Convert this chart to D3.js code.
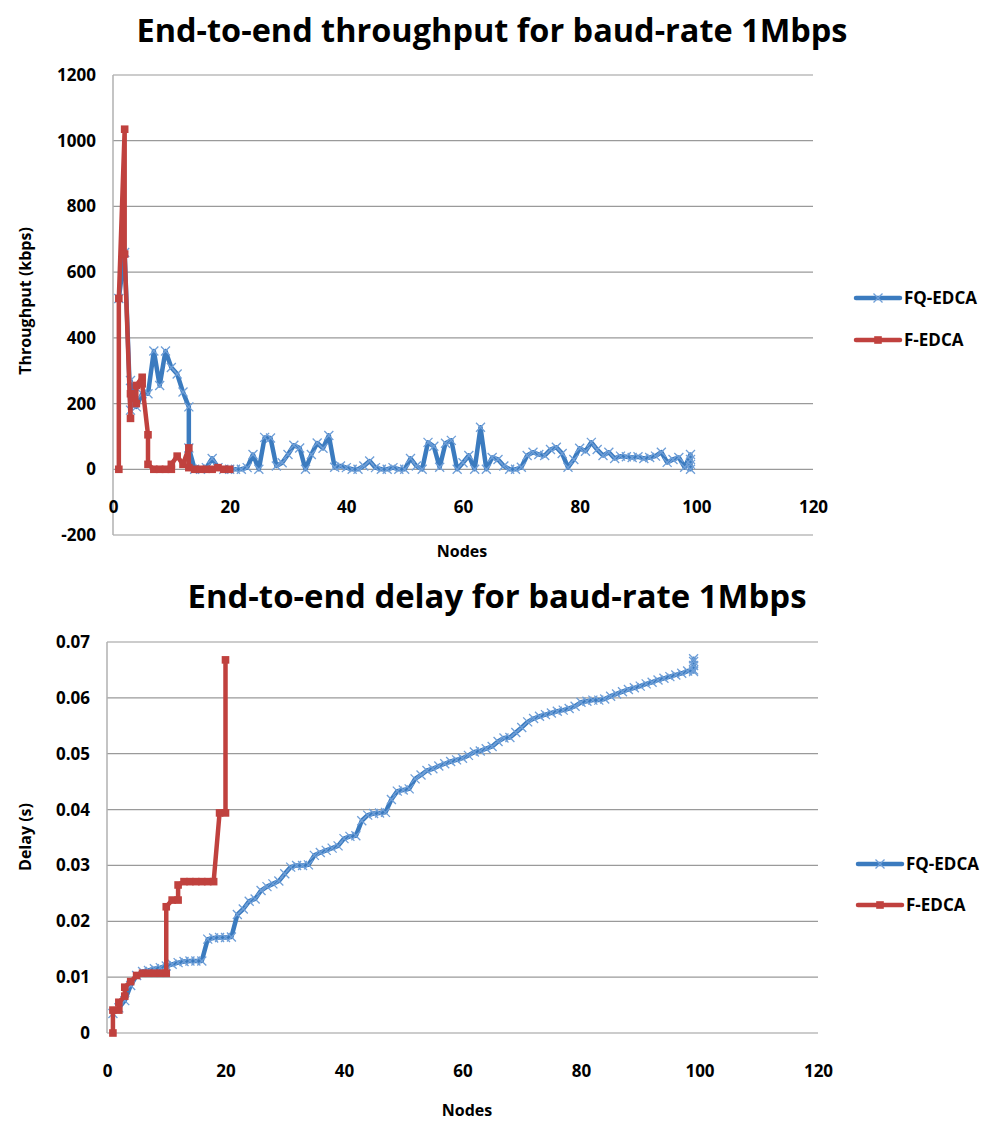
<!DOCTYPE html>
<html><head><meta charset="utf-8">
<script src="https://cdn.jsdelivr.net/npm/d3@7"></script>
<style>
html,body{margin:0;padding:0;background:#fff;}
svg{display:block;font-family:"Open Sans",sans-serif;font-weight:700;}
</style></head>
<body>
<svg id="c" width="999" height="1122"></svg>
<script>
// ---------- DATA ----------
const seriesNames = ["FQ-EDCA", "F-EDCA"];
const throughputTitle = "End-to-end throughput for baud-rate 1Mbps";
const delayTitle = "End-to-end delay for baud-rate 1Mbps";
const xTicks = [0, 20, 40, 60, 80, 100, 120];
const throughputTicks = [-200, 0, 200, 400, 600, 800, 1000, 1200];
const delayTicks = [0, 0.01, 0.02, 0.03, 0.04, 0.05, 0.06, 0.07];

// [node, kbps]
const fqThroughput = [[1,520],[2,660],[3,180],[3,270],[4,190],[5,230],[6,230],[7,360],[8,255],[9,360],[10,310],[11,290],[12,235],[13,190],[13,65],[14,0],[15,0],[16,5],[17,33],[18,5],[19,0],[20,0],[21,0],[22,0],[23,5],[24,45],[25,0],[26,97],[27,95],[28,10],[29,20],[30,45],[31,73],[32,65],[33,0],[34,45],[35,80],[36,64],[37,103],[38,6],[39,10],[40,5],[41,0],[42,0],[43,10],[44,25],[45,5],[46,0],[47,0],[48,5],[49,0],[50,0],[51,33],[52,10],[53,0],[54,82],[55,70],[56,6],[57,79],[58,88],[59,0],[60,20],[61,42],[62,0],[63,128],[64,0],[65,36],[66,30],[67,10],[68,0],[69,0],[70,6],[71,42],[72,52],[73,45],[74,42],[75,60],[76,67],[77,48],[78,6],[79,30],[80,64],[81,55],[82,82],[83,60],[84,42],[85,52],[86,33],[87,40],[88,38],[89,36],[90,38],[91,33],[92,36],[93,40],[94,52],[95,21],[96,30],[97,36],[98,6],[99,45],[99,0],[99,30],[99,15]];
const fThroughput = [[1,0],[1,520],[2,1035],[2,655],[3,155],[3,230],[4,200],[4,255],[5,280],[5,260],[6,105],[6,15],[7,0],[8,0],[9,0],[10,0],[10,15],[11,40],[12,15],[13,65],[13,5],[14,0],[15,0],[16,0],[17,0],[18,5],[19,0],[20,0]];

// [node, seconds]
const fqDelay = [[1,0.0035],[2,0.0045],[3,0.0058],[4,0.0085],[5,0.0103],[6,0.0110],[7,0.0112],[8,0.0115],[9,0.0117],[10,0.0120],[11,0.0123],[12,0.0126],[13,0.0128],[14,0.0129],[15,0.0129],[16,0.0129],[17,0.0168],[18,0.0170],[19,0.0171],[20,0.0171],[21,0.0172],[22,0.0212],[23,0.0222],[24,0.0236],[25,0.0240],[26,0.0255],[27,0.0262],[28,0.0267],[29,0.0272],[30,0.0285],[31,0.0297],[32,0.0300],[33,0.0300],[34,0.0301],[35,0.0318],[36,0.0323],[37,0.0327],[38,0.0331],[39,0.0335],[40,0.0348],[41,0.0352],[42,0.0353],[43,0.0380],[44,0.0390],[45,0.0393],[46,0.0394],[47,0.0395],[48,0.0418],[49,0.0433],[50,0.0435],[51,0.0437],[52,0.0455],[53,0.0462],[54,0.0470],[55,0.0473],[56,0.0478],[57,0.0482],[58,0.0486],[59,0.0489],[60,0.0492],[61,0.0497],[62,0.0503],[63,0.0505],[64,0.0509],[65,0.0513],[66,0.0522],[67,0.0528],[68,0.0529],[69,0.0538],[70,0.0547],[71,0.0557],[72,0.0563],[73,0.0567],[74,0.0570],[75,0.0573],[76,0.0576],[77,0.0578],[78,0.0581],[79,0.0585],[80,0.0592],[81,0.0594],[82,0.0596],[83,0.0596],[84,0.0598],[85,0.0603],[86,0.0607],[87,0.0611],[88,0.0615],[89,0.0618],[90,0.0621],[91,0.0625],[92,0.0628],[93,0.0632],[94,0.0635],[95,0.0638],[96,0.0641],[97,0.0644],[98,0.0648],[99,0.0650],[99,0.0665],[99,0.0658],[99,0.0670],[99,0.0647]];
const fDelay = [[1,0],[1,0.0041],[2,0.0041],[2,0.0055],[3,0.0066],[3,0.0082],[4,0.0092],[5,0.0103],[6,0.0107],[7,0.0107],[8,0.0107],[9,0.0107],[10,0.0107],[10,0.0226],[11,0.0238],[12,0.0238],[12,0.0265],[13,0.0271],[14,0.0271],[15,0.0271],[16,0.0271],[17,0.0271],[18,0.0271],[19,0.0394],[20,0.0394],[20,0.0668]];

// ---------- DRAW ----------
const BLUE = "#3b7bbf", BLUE_M = "#6f9fd8", RED = "#c0413e";
const svg = d3.select("#c");

function drawChart(cfg) {
  const g = svg.append("g");
  const x = d3.scaleLinear().domain([0, 120]).range([cfg.left, cfg.right]);
  const y = d3.scaleLinear().domain(cfg.yDomain).range([cfg.bottom, cfg.top]);

  // gridlines
  g.append("g").selectAll("line").data(cfg.yTicks).join("line")
    .attr("x1", cfg.left).attr("x2", cfg.right)
    .attr("y1", d => y(d)).attr("y2", d => y(d))
    .attr("stroke", "#9a9a9a").attr("stroke-width", 1.2);
  // y axis line
  g.append("line").attr("x1", cfg.left).attr("x2", cfg.left)
    .attr("y1", cfg.top).attr("y2", cfg.bottom)
    .attr("stroke", "#b0b0b0").attr("stroke-width", 1.5);

  // y tick labels via axis
  const ya = g.append("g").attr("transform", `translate(${cfg.left - 14},0)`)
    .call(d3.axisLeft(y).tickValues(cfg.yTicks).tickSize(0).tickFormat(cfg.yFmt));
  ya.select(".domain").remove();
  ya.selectAll("text").attr("font-family", "Open Sans").attr("font-weight", 700)
    .attr("font-size", 17).attr("fill", "#000");

  // x tick labels via axis
  const xa = g.append("g").attr("transform", `translate(0,${cfg.xLabelY})`)
    .call(d3.axisBottom(x).tickValues(xTicks).tickSize(0).tickFormat(d => String(d)));
  xa.select(".domain").remove();
  xa.selectAll("text").attr("font-family", "Open Sans").attr("font-weight", 700)
    .attr("font-size", 17).attr("fill", "#000").attr("dy", "0");

  // title
  g.append("text").attr("x", cfg.titleX).attr("y", cfg.titleY)
    .attr("text-anchor", "middle").attr("font-size", 33)
    .attr("textLength", cfg.titleLen).attr("lengthAdjust", "spacingAndGlyphs")
    .text(cfg.title);
  // axis titles
  g.append("text").attr("x", cfg.nodesX).attr("y", cfg.nodesY)
    .attr("text-anchor", "middle").attr("font-size", 16).text("Nodes");
  g.append("text").attr("transform", `translate(${cfg.yTitleX},${cfg.yTitleY}) rotate(-90)`)
    .attr("text-anchor", "middle").attr("font-size", 16).text(cfg.yTitle);

  const line = d3.line().x(d => x(d[0])).y(d => y(d[1]));
  const series = [
    {name: seriesNames[0], data: cfg.fq, color: BLUE, marker: "x"},
    {name: seriesNames[1], data: cfg.f, color: RED, marker: "sq"}
  ];
  series.forEach(s => {
    g.append("path").datum(s.data).attr("d", line)
      .attr("fill", "none").attr("stroke", s.color).attr("stroke-width", 4.5)
      .attr("stroke-linejoin", "round").attr("stroke-linecap", "round");
    drawMarkers(g, s, x, y);
  });

  // legend
  series.forEach((s, i) => {
    const ly = cfg.legendY[i];
    g.append("line").attr("x1", cfg.legendX).attr("x2", cfg.legendX + 44)
      .attr("y1", ly).attr("y2", ly).attr("stroke", s.color).attr("stroke-width", 4.5)
      .attr("stroke-linecap", "round");
    drawMarkers(g, {data: [[0, 0]], color: s.color, marker: s.marker},
      () => cfg.legendX + 22, () => ly);
    g.append("text").attr("x", cfg.legendX + 48).attr("y", ly + 6)
      .attr("font-size", 17).text(s.name);
  });
}

function drawMarkers(g, s, x, y) {
  if (s.marker === "x") {
    const r = 4.5;
    g.append("g").selectAll("path").data(s.data).join("path")
      .attr("d", d => {
        const cx = x(d[0]), cy = y(d[1]);
        return `M${cx - r},${cy - r}L${cx + r},${cy + r}M${cx - r},${cy + r}L${cx + r},${cy - r}`;
      })
      .attr("stroke", BLUE_M).attr("stroke-width", 1.3).attr("fill", "none");
  } else {
    const r = 3.8;
    g.append("g").selectAll("rect").data(s.data).join("rect")
      .attr("x", d => x(d[0]) - r).attr("y", d => y(d[1]) - r)
      .attr("width", 2 * r).attr("height", 2 * r).attr("fill", s.color);
  }
}

drawChart({
  left: 113, right: 813, top: 75, bottom: 535,
  yDomain: [-200, 1200], yTicks: throughputTicks, yFmt: d => String(d),
  xLabelY: 510, title: throughputTitle, titleX: 492, titleY: 42, titleLen: 711,
  nodesX: 462, nodesY: 557, yTitle: "Throughput (kbps)", yTitleX: 31, yTitleY: 301,
  fq: fqThroughput, f: fThroughput,
  legendX: 856, legendY: [298, 340]
});

drawChart({
  left: 107, right: 818, top: 642, bottom: 1033,
  yDomain: [0, 0.07], yTicks: delayTicks, yFmt: d => d === 0 ? "0" : d3.format(".2f")(d),
  xLabelY: 1074, title: delayTitle, titleX: 497, titleY: 608, titleLen: 619,
  nodesX: 467, nodesY: 1116, yTitle: "Delay (s)", yTitleX: 31, yTitleY: 837,
  fq: fqDelay, f: fDelay,
  legendX: 858, legendY: [864, 905]
});
</script>
</body></html>
